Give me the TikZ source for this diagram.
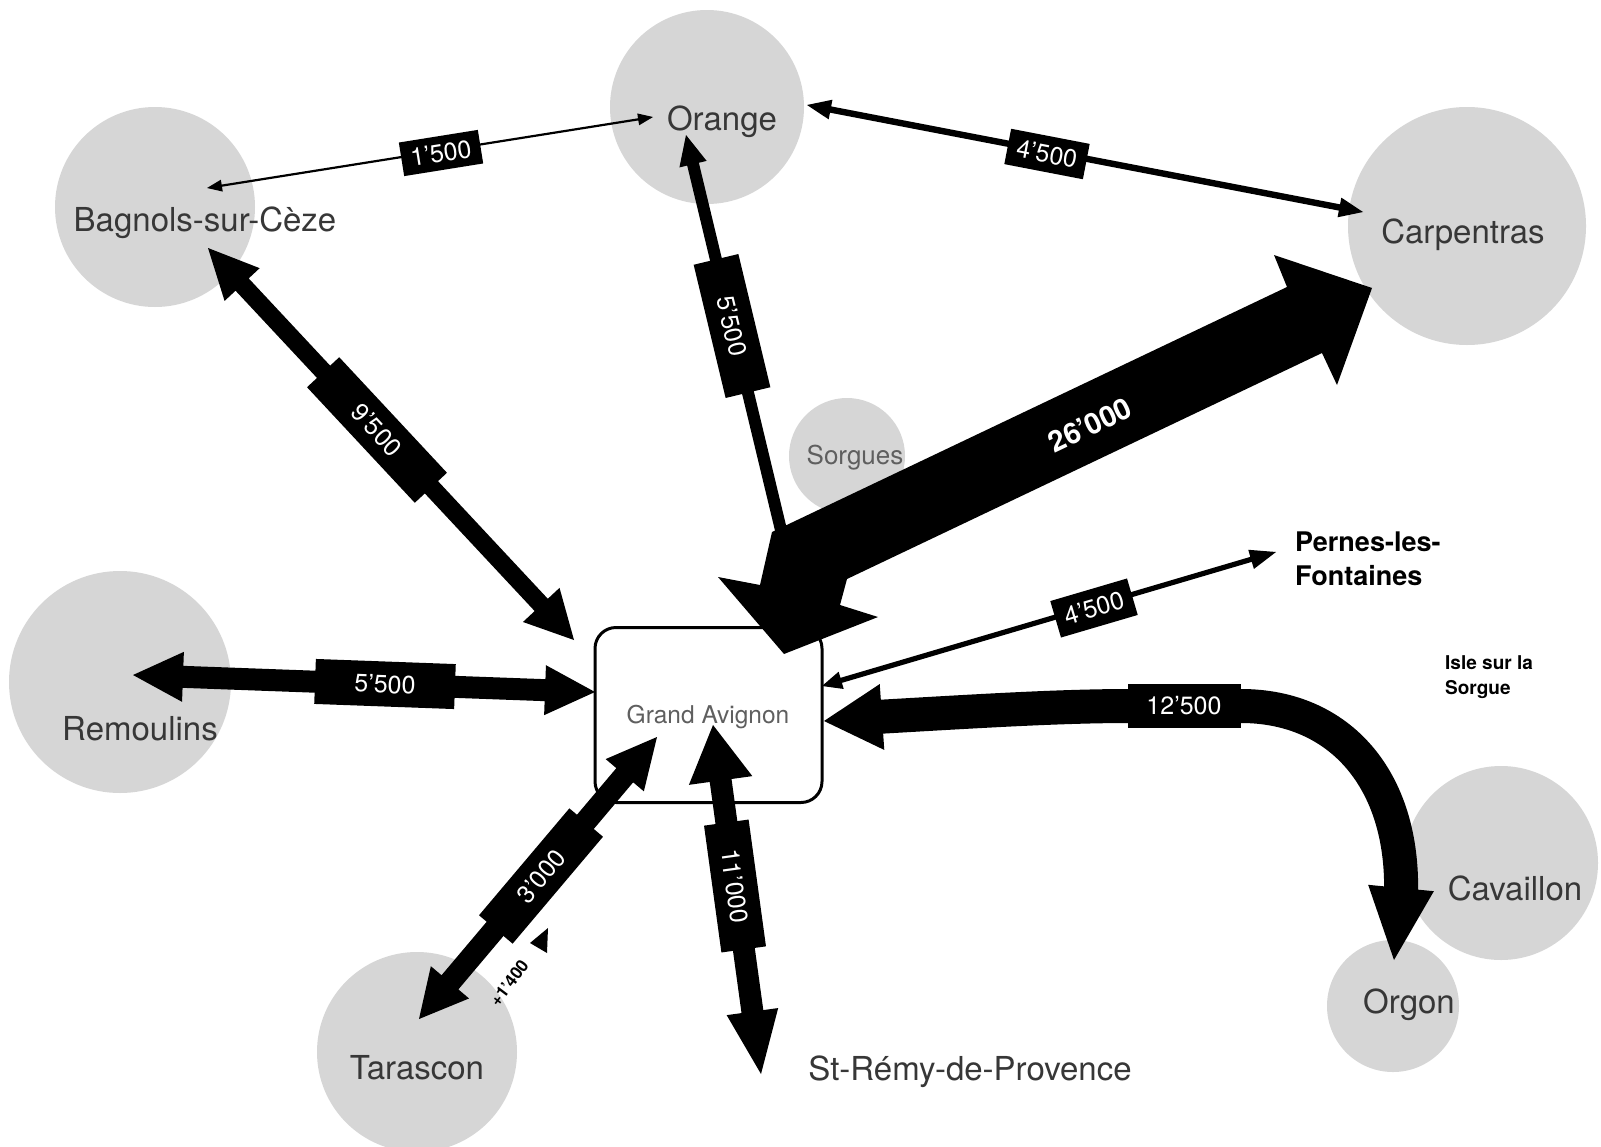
\documentclass[tikz,border=0pt]{standalone}
\usepackage{fontspec}
\setmainfont{TeX Gyre Heros}
\usetikzlibrary{calc}
\definecolor{circ}{RGB}{214,214,214}
\definecolor{namecol}{RGB}{55,55,55}
\definecolor{softcol}{RGB}{95,95,95}
% double-headed arrow polygon: #1 A, #2 B, #3 half shaft, #4 head len A, #5 half head A, #6 head len B, #7 half head B
\newcommand{\twoheadarr}[7]{%
  \coordinate (tmpA) at ($(#1)!#4!(#2)$);
  \coordinate (tmpB) at ($(#2)!#6!(#1)$);
  \fill (#1) -- ($(tmpA)!#5!90:(#1)$) -- ($(tmpA)!#3!90:(#1)$) -- ($(tmpB)!#3!-90:(#2)$) -- ($(tmpB)!#7!-90:(#2)$) -- (#2) -- ($(tmpB)!#7!90:(#2)$) -- ($(tmpB)!#3!90:(#2)$) -- ($(tmpA)!#3!-90:(#1)$) -- ($(tmpA)!#5!-90:(#1)$) -- cycle;}
% single-headed arrow polygon: head at #1
\newcommand{\oneheadarr}[5]{%
  \coordinate (tmpA) at ($(#1)!#4!(#2)$);
  \fill (#1) -- ($(tmpA)!#5!90:(#1)$) -- ($(tmpA)!#3!90:(#1)$) -- ($(#2)!#3!90:(#1)$) -- ($(#2)!#3!-90:(#1)$) -- ($(tmpA)!#3!-90:(#1)$) -- ($(tmpA)!#5!-90:(#1)$) -- cycle;}
% triangle head: #1 tip, #2 back centre, #3 half width
\newcommand{\trihead}[3]{%
  \fill (#1) -- ($(#2)!#3!90:(#1)$) -- ($(#2)!#3!-90:(#1)$) -- cycle;}
\begin{document}
\begin{tikzpicture}[x=1pt,y=-1pt,
  town/.style={circle, fill=circ, inner sep=0pt},
  cityname/.style={text=namecol, font=\fontsize{33pt}{36pt}\selectfont, inner sep=0pt, anchor=base},
  lab/.style={fill=black, text=white, inner sep=0pt, font=\fontsize{25pt}{25pt}\selectfont},
  boldname/.style={text=black, inner sep=0pt, anchor=base west, align=left}]
\fill[white] (0,0) rectangle (1601,1146);
\useasboundingbox (0,0) rectangle (1601,1146);

% circles
\node[town, minimum size=194pt] (cOrange) at (707,107) {};
\node[town, minimum size=200pt] (cBagnols) at (155,207) {};
\node[town, minimum size=238pt] (cCarp) at (1467,226) {};
\node[town, minimum size=116pt] (cSorgues) at (847,456) {};
\node[town, minimum size=222pt] (cRemoulins) at (120,682) {};
\node[town, minimum size=200pt] (cTarascon) at (417,1052) {};
\node[town, minimum size=194pt] (cCavaillon) at (1501,863) {};
\node[town, minimum size=132pt] (cOrgon) at (1393,1006) {};

% central box
\node[draw=black, line width=3pt, rounded corners=21pt, fill=white, minimum width=227pt, minimum height=175pt, inner sep=0pt] (avignon) at (708.5,715) {};

% arrow end points
\coordinate (e1a) at (653,117); \coordinate (e1b) at (207,188);
\coordinate (e2a) at (807,105); \coordinate (e2b) at (1363,212);
\coordinate (e3a) at (208,248); \coordinate (e3b) at (574,640);
\coordinate (e4a) at (686,135); \coordinate (e4b) at (781,530);
\coordinate (e5a) at (1276,552); \coordinate (e5b) at (822,686);
\coordinate (e6a) at (133,675); \coordinate (e6b) at (595,692);
\coordinate (e7a) at (419,1019); \coordinate (e7b) at (657,737);
\coordinate (e8a) at (713,725); \coordinate (e8b) at (761,1074);

% arrows
\twoheadarr{e1a}{e1b}{1.1pt}{15pt}{6pt}{15pt}{6pt}
\twoheadarr{e2a}{e2b}{3.2pt}{24pt}{10pt}{24pt}{10pt}
\twoheadarr{e3a}{e3b}{9pt}{50pt}{24pt}{48pt}{25pt}
\oneheadarr{e4a}{e4b}{6pt}{30pt}{14pt}
\twoheadarr{e5a}{e5b}{2.6pt}{26pt}{10pt}{20pt}{9pt}
\twoheadarr{e6a}{e6b}{11pt}{50pt}{25pt}{50pt}{25pt}
\twoheadarr{e7a}{e7b}{11pt}{48pt}{25pt}{50pt}{25pt}
\twoheadarr{e8a}{e8b}{11pt}{56pt}{32pt}{63pt}{26pt}

% 26'000 big arrow
\coordinate (p1) at (1287,287); \coordinate (p2) at (1274,255);
\coordinate (p3) at (1372,288); \coordinate (p4) at (1337,385);
\coordinate (p5) at (1322,353); \coordinate (p6) at (847,579);
\coordinate (p7) at (840,605); \coordinate (p8) at (878,617);
\coordinate (p9) at (784,654); \coordinate (p10) at (718,577);
\coordinate (p11) at (760,585); \coordinate (p12) at (772,532);
\fill (p1) -- (p2) -- (p3) -- (p4) -- (p5) -- (p6) -- (p7) -- (p8) -- (p9) -- (p10) -- (p11) -- (p12) -- cycle;

% 12'500 curved arrow
\coordinate (t12a) at (824,721); \coordinate (b12a) at (882,717);
\coordinate (t12b) at (1394,960); \coordinate (b12b) at (1401,888);
\draw[line width=34pt] (876,717) .. controls (980,711) and (1060,706) .. (1130,706) -- (1241,706) .. controls (1340,706) and (1404,780) .. (1401,894);
\trihead{t12a}{b12a}{33pt}
\trihead{t12b}{b12b}{33pt}

% labels
\node[lab, minimum width=80pt, minimum height=34pt, rotate=9.1] (l1) at (441,153) {1’500};
\node[lab, minimum width=80pt, minimum height=36pt, rotate=-10.9] (l2) at (1047,154) {4’500};
\node[lab, minimum width=158pt, minimum height=44pt, rotate=-47] (l3) at (377,430) {9’500};
\node[lab, minimum width=137pt, minimum height=46pt, rotate=-76.5] (l4) at (732,326) {5’500};
\node[lab, minimum width=80pt, minimum height=38pt, rotate=16.4] (l5) at (1094,608) {4’500};
\node[lab, minimum width=140pt, minimum height=45pt, rotate=-2.1] (l6) at (385,684) {5’500};
\node[lab, minimum width=140pt, minimum height=44pt, rotate=49.8] (l7) at (541,876) {3’000};
\node[lab, minimum width=128pt, minimum height=45pt, rotate=-82.2] (l8) at (735,886) {11’000};
\node[lab, minimum width=113pt, minimum height=44pt] (l9) at (1184,706) {12’500};
\node[text=white, inner sep=0pt, rotate=25.4, font=\bfseries\fontsize{29pt}{29pt}\selectfont] (l10) at (1090,425) {26’000};

% +1'400 note
\node[inner sep=0pt, rotate=53, font=\bfseries\fontsize{17pt}{17pt}\selectfont] (plus) at (509,983) {+1’400};
\fill (548,928) -- (530,943) -- (547,953) -- cycle;

% names
\node[cityname] (tOrange) at (722,130) {Orange};
\node[cityname] (tBagnols) at (205,231) {Bagnols-sur-Cèze};
\node[cityname] (tCarp) at (1463,243) {Carpentras};
\node[cityname, text=softcol, font=\fontsize{26pt}{28pt}\selectfont] (tSorgues) at (855,464) {Sorgues};
\node[cityname] (tRemoulins) at (140,740) {Remoulins};
\node[cityname] (tTarascon) at (417,1079) {Tarascon};
\node[cityname] (tCavaillon) at (1515,900) {Cavaillon};
\node[cityname] (tOrgon) at (1409,1013) {Orgon};
\node[cityname] (tStRemy) at (970,1080) {St-Rémy-de-Provence};
\node[cityname, text=softcol, font=\fontsize{24.5pt}{26pt}\selectfont] (tAvignon) at (708,723) {Grand Avignon};
\node[boldname, font=\bfseries\fontsize{27pt}{34pt}\selectfont] (tPernes) at (1295,585) {Pernes-les-\\Fontaines};
\node[boldname, font=\bfseries\fontsize{19pt}{24.5pt}\selectfont] (tIsle) at (1445,694) {Isle sur la\\Sorgue};
\end{tikzpicture}
\end{document}
